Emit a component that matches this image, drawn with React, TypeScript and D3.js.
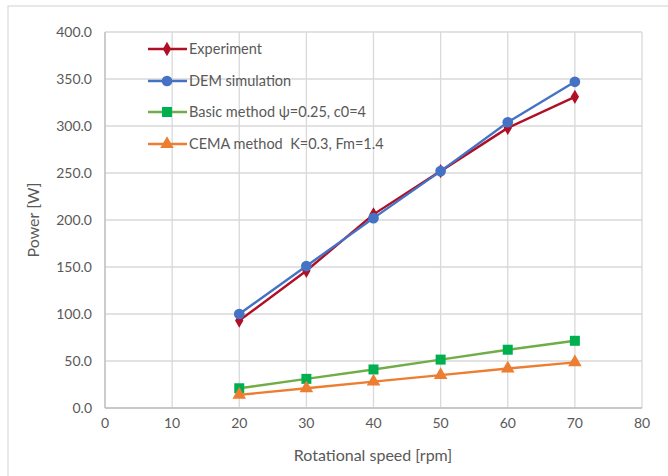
import React from "react";
import * as d3 from "d3";

const speeds = [20, 30, 40, 50, 60, 70];
const experiment = [93, 146, 206, 252, 298, 331];
const demSimulation = [100, 151, 202, 252, 304, 347];
const basicMethod = [21, 31, 41, 51.5, 62, 71.5];
const cemaMethod = [14, 21, 28, 35, 42, 48.5];
const xTicks = [0, 10, 20, 30, 40, 50, 60, 70, 80];
const yTicks = [0, 50, 100, 150, 200, 250, 300, 350, 400];
const seriesNames = [
  "Experiment",
  "DEM simulation",
  "Basic method ψ=0.25, c0=4",
  "CEMA method  K=0.3, Fm=1.4",
];

const W = 668;
const H = 476;
const FONT = "Lato, 'Open Sans', sans-serif";
const TXT = "#595959";

export default function App() {
  const x = d3.scaleLinear().domain([0, 80]).range([105, 642]);
  const y = d3.scaleLinear().domain([0, 400]).range([408, 32]);

  const series = [
    { name: seriesNames[0], data: experiment, line: "#B01025", fill: "#B01025", marker: "diamond" },
    { name: seriesNames[1], data: demSimulation, line: "#4472C4", fill: "#4472C4", marker: "circle" },
    { name: seriesNames[2], data: basicMethod, line: "#70AD47", fill: "#00B050", marker: "square" },
    { name: seriesNames[3], data: cemaMethod, line: "#ED7D31", fill: "#ED7D31", marker: "triangle" },
  ];

  const lineGen = d3
    .line<number>()
    .x((_, i) => x(speeds[i]))
    .y((d) => y(d));

  const symbolFor = (m: string) => {
    if (m === "diamond") return d3.symbol().type(d3.symbolDiamond).size(60)()!;
    if (m === "circle") return d3.symbol().type(d3.symbolCircle).size(90)()!;
    if (m === "square") return d3.symbol().type(d3.symbolSquare).size(100)()!;
    return d3.symbol().type(d3.symbolTriangle).size(80)()!;
  };

  const legendY = [49, 81, 112, 144];

  return (
    <svg width={W} height={H} style={{ display: "block", position: "absolute", left: 0, top: 0 }}>
      <rect x={0} y={0} width={W} height={H} fill="#fff" />
      <rect x={8} y={6} width={700} height={500} fill="#fff" stroke="#D9D9D9" strokeWidth={1.2} />
      {xTicks.map((t) => (
        <line key={"gx" + t} x1={x(t)} x2={x(t)} y1={y(0)} y2={y(400)} stroke="#D9D9D9" strokeWidth={1.3} />
      ))}
      {yTicks.map((t) => (
        <line key={"gy" + t} x1={x(0)} x2={x(80)} y1={y(t)} y2={y(t)} stroke="#D9D9D9" strokeWidth={1.3} />
      ))}
      <line x1={x(0)} x2={x(80)} y1={y(0)} y2={y(0)} stroke="#BFBFBF" strokeWidth={1.3} />
      <line x1={x(0)} x2={x(0)} y1={y(0)} y2={y(400)} stroke="#BFBFBF" strokeWidth={1.3} />
      {yTicks.map((t) => (
        <text key={"ty" + t} x={92} y={y(t)} dy="0.35em" textAnchor="end" fontFamily={FONT} fontSize={14} fill={TXT}>
          {t.toFixed(1)}
        </text>
      ))}
      {xTicks.map((t) => (
        <text key={"tx" + t} x={x(t)} y={428} textAnchor="middle" fontFamily={FONT} fontSize={14} fill={TXT}>
          {t}
        </text>
      ))}
      <text x={373} y={461} textAnchor="middle" fontFamily={FONT} fontSize={16} fill={TXT}>
        Rotational speed [rpm]
      </text>
      <text
        transform={`translate(39,220) rotate(-90)`}
        textAnchor="middle"
        fontFamily={FONT}
        fontSize={16}
        fill={TXT}
      >
        Power [W]
      </text>
      {series.map((s) => (
        <g key={s.name}>
          <path d={lineGen(s.data)!} fill="none" stroke={s.line} strokeWidth={2.4} />
          {s.data.map((v, i) => (
            <path
              key={i}
              d={symbolFor(s.marker)}
              transform={`translate(${x(speeds[i])},${y(v)})`}
              fill={s.fill}
            />
          ))}
        </g>
      ))}
      {series.map((s, i) => (
        <g key={"lg" + i} transform={`translate(0,${legendY[i]})`}>
          <line x1={148} x2={187} y1={0} y2={0} stroke={s.line} strokeWidth={2.4} />
          <path d={symbolFor(s.marker)} transform="translate(167,0)" fill={s.fill} />
          <text x={189} y={0} dy="0.35em" fontFamily={FONT} fontSize={14.5} fill={TXT} style={{ whiteSpace: "pre" }}>
            {s.name}
          </text>
        </g>
      ))}
    </svg>
  );
}
